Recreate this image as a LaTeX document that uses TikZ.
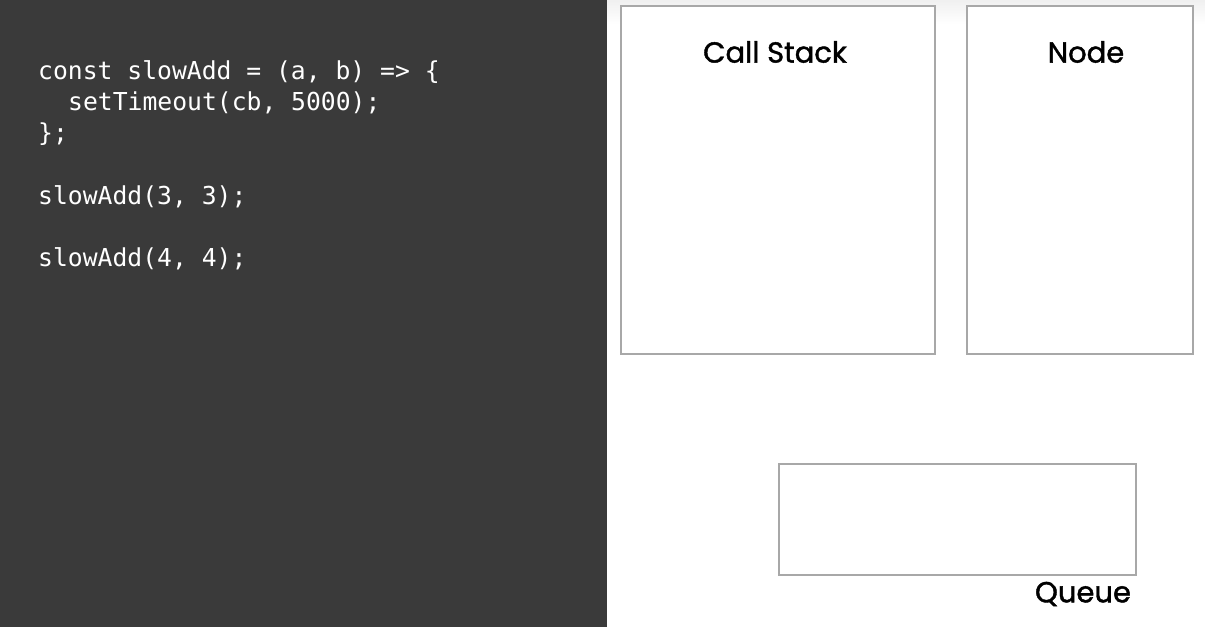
\documentclass[tikz,border=0pt]{standalone}
\usepackage{fontspec}
\setmainfont{Poppins}
\setmonofont{DejaVu Sans Mono}
\newfontfamily\headfont[FakeBold=1.4]{Poppins}
\usepackage{tikz}
\usetikzlibrary{positioning}
\definecolor{slate}{HTML}{3A3A3A}
\definecolor{rim}{HTML}{A8A8A8}

\begin{document}
\begin{tikzpicture}[x=1pt, y=-1pt,
  codeline/.style={anchor=west, inner sep=0pt, text=white, font=\ttfamily\fontsize{24.7}{28}\selectfont},
  panel/.style={draw=rim, line width=1.2pt, fill=white, inner sep=0pt, outer sep=0pt},
  title/.style={inner sep=0pt, font=\headfont\fontsize{29}{32}\selectfont}
]
  \useasboundingbox (0,0) rectangle (1205,627);
  % backgrounds
  \fill[slate] (0,0) rectangle (607,627);
  \fill[white] (607,0) rectangle (1205,627);
  \shade[top color=black!6, bottom color=white] (607,0) rectangle (1205,24);

  % code
  \node[codeline] (code1) at (38,72) {const slowAdd = (a, b) => \{};
  \node[codeline] (code2) at (68,103) {setTimeout(cb, 5000);};
  \node[codeline] (code3) at (38,134) {\};};
  \node[codeline] (code4) at (38,197) {slowAdd(3, 3);};
  \node[codeline] (code5) at (38,259) {slowAdd(4, 4);};

  % boxes
  \node[panel, minimum width=314pt, minimum height=348pt] (stack) at (778,180) {};
  \node[panel, minimum width=226pt, minimum height=348pt] (env) at (1080,180) {};
  \node[panel, minimum width=357pt, minimum height=111pt] (queue) at (957.5,519.5) {};

  \node[title] (stacklbl) at (775,52) {Call Stack};
  \node[title] (envlbl) at (1086,52) {Node};
  \node[title] (queuelbl) at (1083,594) {Queue};
\end{tikzpicture}
\end{document}
